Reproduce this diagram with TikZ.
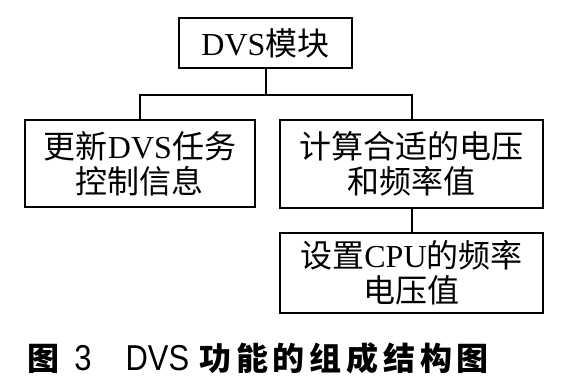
\documentclass[tikz,border=0pt]{standalone}
\usepackage{fontspec}
\setmainfont{Liberation Serif}
\newfontfamily\cjk{Noto Sans CJK SC}
\newfontfamily\capfont[LetterSpace=15]{Noto Sans CJK SC}
\newfontfamily\capsans[FakeStretch=0.86]{Liberation Sans}
\newcommand{\zh}[1]{{\cjk #1}}
\usepackage{tikz}
\usetikzlibrary{positioning,calc}
\tikzset{
  modbox/.style={draw=black, line width=1.3pt, fill=white, align=center, inner sep=2pt, font=\fontsize{16pt}{17.5pt}\selectfont},
  link/.style={draw=black, line width=1pt}
}
\begin{document}
\begin{tikzpicture}[x=0.5pt,y=-0.5pt]
  \useasboundingbox[fill=white] (0,0) rectangle (562,389);
  \node[modbox, minimum width=86.5pt, minimum height=25pt] (top) at (265.5,43) {DVS\zh{模块}};
  \node[modbox, minimum width=115pt, minimum height=43.5pt] (upd) at (140,163.5) {\zh{更新}DVS\zh{任务}\\\zh{控制信息}};
  \node[modbox, minimum width=131.5pt, minimum height=44pt] (calc) at (411.5,164) {\zh{计算合适的电压}\\\zh{和频率值}};
  \node[modbox, minimum width=131.5pt, minimum height=40pt] (setv) at (411.5,273) {\zh{设置}CPU\zh{的频率}\\\zh{电压值}};
  \coordinate (bus) at (265.5,95);
  \draw[link] (top.south) -- (bus);
  \draw[link] (upd.north) |- (bus) -| (calc.north);
  \draw[link] (calc.south) -- (setv.north);
  \node[anchor=west, inner sep=0pt, font=\fontsize{16pt}{18pt}\selectfont] (cap) at (27,358) {{\capfont\bfseries 图}\hspace{7.5pt}{\fontsize{18pt}{18pt}\selectfont\capsans 3}\hspace{17pt}{\fontsize{18pt}{18pt}\selectfont\capsans DVS}\hspace{5pt}{\capfont\bfseries 功能的组成结构图}};
\end{tikzpicture}
\end{document}
